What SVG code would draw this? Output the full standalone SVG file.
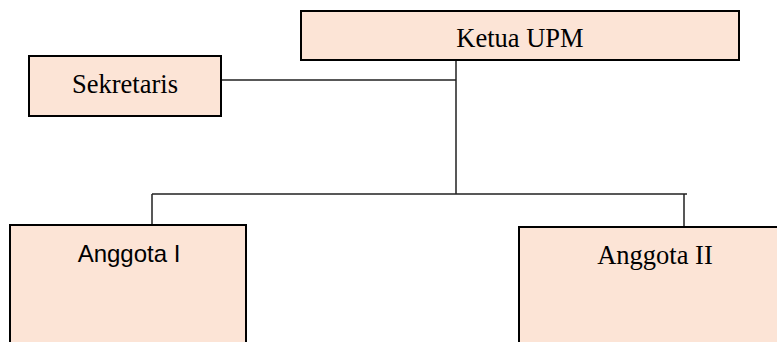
<svg xmlns="http://www.w3.org/2000/svg" width="777" height="342" viewBox="0 0 777 342">
<style>
.box{fill:#FCE4D6;stroke:#000;stroke-width:2}
.ln{fill:none;stroke:#222;stroke-width:1.5}
.serif{font-family:"Liberation Serif","Times New Roman",serif;font-size:26.5px;fill:#000;text-anchor:middle}
.sans{font-family:"Liberation Sans",Arial,sans-serif;font-size:24px;fill:#000;text-anchor:middle}
</style>
<rect width="777" height="342" fill="#fff"/>
<g id="connectors">
<path class="ln" d="M221 80H456M456 60V194M152 194H687M152 194V225M684 194V227"/>
</g>
<g id="ketua">
<rect class="box" x="301" y="11" width="438" height="49"/>
<text class="serif" x="520" y="47">Ketua UPM</text>
</g>
<g id="sekretaris">
<rect class="box" x="29" y="56" width="192" height="60"/>
<text class="serif" x="125" y="93">Sekretaris</text>
</g>
<g id="anggota1">
<rect class="box" x="10" y="225" width="236" height="130"/>
<text class="sans" x="129" y="262">Anggota I</text>
</g>
<g id="anggota2">
<rect class="box" x="519" y="227" width="270" height="130"/>
<text class="serif" x="655" y="264">Anggota II</text>
</g>
</svg>
